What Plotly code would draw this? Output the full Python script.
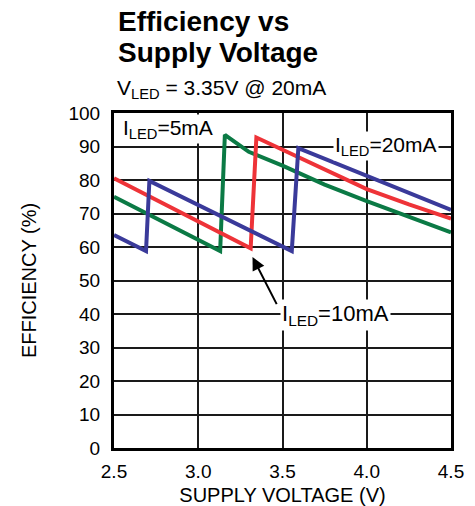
import plotly.graph_objects as go

# Data
v_5ma = [2.5, 3.13, 3.158, 3.3, 3.5, 3.75, 4.0, 4.25, 4.5]
eff_5ma = [75.0, 58.8, 93.5, 88.4, 84.3, 78.6, 73.7, 69.0, 64.4]

v_10ma = [2.5, 3.311, 3.345, 3.5, 3.75, 4.0, 4.25, 4.5]
eff_10ma = [80.5, 59.6, 92.7, 89.0, 83.1, 77.3, 72.7, 68.5]

v_20ma = [2.5, 2.69, 2.71, 3.555, 3.594, 4.0, 4.5]
eff_20ma = [63.6, 58.8, 79.7, 58.8, 89.5, 81.3, 71.1]

x_ticks = [2.5, 3.0, 3.5, 4.0, 4.5]
x_tick_labels = ["2.5", "3.0", "3.5", "4.0", "4.5"]
y_ticks = [0, 10, 20, 30, 40, 50, 60, 70, 80, 90, 100]

GREEN = "#0B7A45"
RED = "#EE3338"
BLUE = "#3A3A9A"
FONT = "Liberation Sans, Arial, sans-serif"

fig = go.Figure()
fig.add_trace(go.Scatter(x=v_5ma, y=eff_5ma, mode="lines",
                         line=dict(color=GREEN, width=4), showlegend=False))
fig.add_trace(go.Scatter(x=v_10ma, y=eff_10ma, mode="lines",
                         line=dict(color=RED, width=4), showlegend=False))
fig.add_trace(go.Scatter(x=v_20ma, y=eff_20ma, mode="lines",
                         line=dict(color=BLUE, width=4), showlegend=False))

fig.update_layout(
    width=475, height=506,
    margin=dict(l=114, r=24, t=113, b=58, autoexpand=False),
    paper_bgcolor="white", plot_bgcolor="white",
    font=dict(family=FONT, color="black", size=18),
    xaxis=dict(range=[2.5, 4.5], tickvals=x_ticks, ticktext=x_tick_labels,
               showgrid=True, gridcolor="#1a1a1a", gridwidth=1.5,
               showline=True, linecolor="black", linewidth=3, mirror=True,
               ticks="", zeroline=False, tickfont=dict(size=19),
               ticklabelstandoff=4, automargin=False,
               title=dict(text="SUPPLY VOLTAGE (V)", font=dict(size=20), standoff=8)),
    yaxis=dict(range=[0, 100], tickvals=y_ticks,
               showgrid=True, gridcolor="#1a1a1a", gridwidth=1.5,
               showline=True, linecolor="black", linewidth=3, mirror=True,
               ticks="", zeroline=False, tickfont=dict(size=19),
               ticklabelstandoff=7, automargin=False,
               title=dict(text="EFFICIENCY (%)", font=dict(size=20), standoff=27)),
)

def py(p):
    return (448 - p) / 335.0

fig.add_annotation(text="<b>Efficiency vs</b>", xref="paper", yref="paper",
                   x=(116 - 114) / 337, y=py(22), xanchor="left", yanchor="middle",
                   showarrow=False, font=dict(size=28))
fig.add_annotation(text="<b>Supply Voltage</b>", xref="paper", yref="paper",
                   x=(116 - 114) / 337, y=py(52), xanchor="left", yanchor="middle",
                   showarrow=False, font=dict(size=28))
fig.add_annotation(text="V<sub>LED</sub> = 3.35V @ 20mA", xref="paper", yref="paper",
                   x=(115 - 114) / 337, y=py(89), xanchor="left", yanchor="middle",
                   showarrow=False, font=dict(size=21))

fig.add_annotation(text="I<sub>LED</sub>=5mA", x=2.54, y=95.3, xanchor="left",
                   yanchor="middle", showarrow=False, bgcolor="white",
                   font=dict(size=21))
fig.add_annotation(text="I<sub>LED</sub>=20mA", x=3.80, y=90.2, xanchor="left",
                   yanchor="middle", showarrow=False, bgcolor="white",
                   font=dict(size=21))
fig.add_annotation(text="I<sub>LED</sub>=10mA", x=3.485, y=39.8, xanchor="left",
                   yanchor="middle", showarrow=False, bgcolor="white",
                   font=dict(size=22))
fig.add_annotation(text="", x=3.322, y=57.0, ax=3.47, ay=42.5,
                   xref="x", yref="y", axref="x", ayref="y",
                   showarrow=True, arrowhead=2, arrowsize=1.3, arrowwidth=2,
                   arrowcolor="black")

fig.write_html("out.html", config={"displayModeBar": False},
               post_script="document.body.style.margin='0px';")
